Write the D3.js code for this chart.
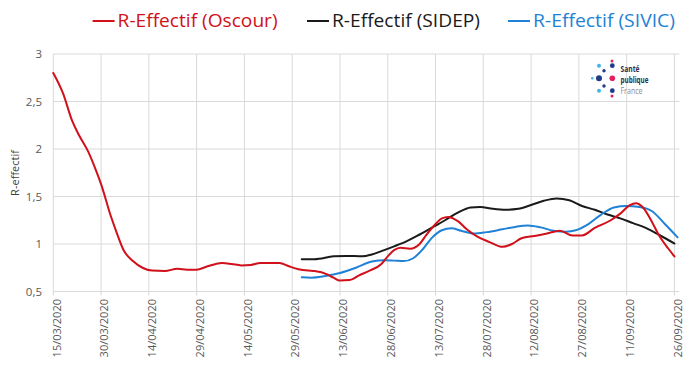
<!DOCTYPE html>
<html><head><meta charset="utf-8">
<script src="https://cdn.jsdelivr.net/npm/d3@7"></script>
<style>html,body{margin:0;padding:0;background:#fff;}svg{display:block;}</style>
</head><body>
<svg id="chart" width="700" height="382"></svg>
<script>
// ---- data ----
const seriesNames = ["R-Effectif (Oscour)", "R-Effectif (SIDEP)", "R-Effectif (SIVIC)"];
const seriesColors = ["#d0101a", "#1a1a1a", "#1f82d6"];

const oscourDates = ["2020-03-15","2020-03-18","2020-03-21","2020-03-23","2020-03-26","2020-03-28","2020-03-30","2020-04-02","2020-04-04","2020-04-06","2020-04-09","2020-04-12","2020-04-15","2020-04-19","2020-04-23","2020-04-26","2020-04-29","2020-05-02","2020-05-05","2020-05-07","2020-05-10","2020-05-13","2020-05-16","2020-05-19","2020-05-22","2020-05-25","2020-05-28","2020-05-31","2020-06-03","2020-06-05","2020-06-09","2020-06-11","2020-06-13","2020-06-16","2020-06-19","2020-06-22","2020-06-26","2020-06-28","2020-06-30","2020-07-02","2020-07-05","2020-07-08","2020-07-10","2020-07-13","2020-07-15","2020-07-17","2020-07-20","2020-07-23","2020-07-26","2020-07-30","2020-08-03","2020-08-06","2020-08-09","2020-08-13","2020-08-17","2020-08-21","2020-08-25","2020-08-28","2020-09-01","2020-09-06","2020-09-09","2020-09-12","2020-09-14","2020-09-16","2020-09-19","2020-09-21","2020-09-24","2020-09-26"];
const oscourValues = [2.80,2.59,2.29,2.15,1.97,1.81,1.63,1.30,1.11,0.94,0.82,0.75,0.72,0.715,0.74,0.73,0.73,0.76,0.79,0.80,0.79,0.775,0.78,0.80,0.80,0.80,0.765,0.735,0.72,0.715,0.68,0.645,0.615,0.62,0.67,0.715,0.79,0.87,0.935,0.96,0.95,1.00,1.09,1.21,1.27,1.285,1.24,1.15,1.08,1.02,0.97,1.00,1.06,1.085,1.11,1.14,1.09,1.09,1.17,1.25,1.32,1.41,1.43,1.39,1.23,1.10,0.955,0.87];

const sidepDates = ["2020-06-01","2020-06-05","2020-06-11","2020-06-15","2020-06-20","2020-06-23","2020-06-26","2020-06-30","2020-07-04","2020-07-08","2020-07-12","2020-07-16","2020-07-20","2020-07-24","2020-07-27","2020-07-31","2020-08-04","2020-08-08","2020-08-12","2020-08-16","2020-08-20","2020-08-24","2020-08-28","2020-09-01","2020-09-05","2020-09-09","2020-09-13","2020-09-17","2020-09-21","2020-09-26"];
const sidepValues = [0.84,0.84,0.87,0.875,0.87,0.89,0.925,0.975,1.03,1.10,1.175,1.25,1.33,1.385,1.39,1.37,1.36,1.37,1.41,1.455,1.48,1.46,1.40,1.36,1.31,1.27,1.22,1.17,1.10,1.005];

const sivicDates = ["2020-06-01","2020-06-04","2020-06-08","2020-06-13","2020-06-18","2020-06-23","2020-06-27","2020-06-30","2020-07-03","2020-07-06","2020-07-09","2020-07-12","2020-07-15","2020-07-18","2020-07-21","2020-07-25","2020-07-29","2020-08-03","2020-08-07","2020-08-11","2020-08-15","2020-08-19","2020-08-23","2020-08-26","2020-08-30","2020-09-03","2020-09-07","2020-09-11","2020-09-15","2020-09-19","2020-09-23","2020-09-27"];
const sivicValues = [0.65,0.645,0.66,0.695,0.75,0.815,0.83,0.825,0.82,0.85,0.945,1.07,1.145,1.165,1.14,1.11,1.125,1.155,1.18,1.195,1.175,1.14,1.13,1.145,1.21,1.31,1.385,1.40,1.39,1.345,1.21,1.07];

const xTickLabels = ["15/03/2020","30/03/2020","14/04/2020","29/04/2020","14/05/2020","29/05/2020","13/06/2020","28/06/2020","13/07/2020","28/07/2020","12/08/2020","27/08/2020","11/09/2020","26/09/2020"];
const yTicks = [0.5, 1, 1.5, 2, 2.5, 3];
const yTickLabels = ["0,5","1","1,5","2","2,5","3"];
const yTitle = "R-effectif";
const logoLines = ["Santé", "publique", "France"];

// ---- drawing ----
const svg = d3.select("#chart");
const parseIso = d3.timeParse("%Y-%m-%d");
const parseFr = d3.timeParse("%d/%m/%Y");

const x = d3.scaleTime()
  .domain([parseIso("2020-03-15"), d3.timeHour.offset(parseIso("2020-09-27"), 12)])
  .range([53.3, 679.2]);
const y = d3.scaleLinear().domain([0.5, 3]).range([291.5, 54]);

const grid = "#d9d9d9";
const tickFont = "'Open Sans', sans-serif";

svg.append("g").selectAll("line").data(yTicks).join("line")
  .attr("x1", x.range()[0]).attr("x2", x.range()[1])
  .attr("y1", d => y(d)).attr("y2", d => y(d))
  .attr("stroke", grid).attr("stroke-width", 1);

const xTickDates = xTickLabels.map(parseFr);
svg.append("g").selectAll("line").data(xTickDates).join("line")
  .attr("x1", d => x(d)).attr("x2", d => x(d))
  .attr("y1", y(3)).attr("y2", y(0.5) + 4)
  .attr("stroke", grid).attr("stroke-width", 1);

svg.append("g").selectAll("text").data(yTicks).join("text")
  .attr("x", 42).attr("y", d => y(d)).attr("dy", "0.35em")
  .attr("text-anchor", "end")
  .attr("font-family", tickFont).attr("font-size", 11.5).attr("fill", "#595959")
  .text((d, i) => yTickLabels[i]);

svg.append("g").selectAll("text").data(xTickDates).join("text")
  .attr("transform", d => `translate(${x(d) + 3.4},299) rotate(-90)`)
  .attr("dy", "0.35em")
  .attr("text-anchor", "end")
  .attr("font-family", tickFont).attr("font-size", 11).attr("fill", "#595959")
  .text((d, i) => xTickLabels[i]);

svg.append("text")
  .attr("transform", "translate(15,173) rotate(-90)")
  .attr("dy", "0.35em").attr("text-anchor", "middle")
  .attr("font-family", tickFont).attr("font-size", 11).attr("fill", "#404040")
  .text(yTitle);

const line = d3.line().x(d => x(d.date)).y(d => y(d.value)).curve(d3.curveMonotoneX);
const makeSeries = (dates, values) => dates.map((dt, i) => ({date: parseIso(dt), value: values[i]}));
const allSeries = [
  makeSeries(oscourDates, oscourValues),
  makeSeries(sidepDates, sidepValues),
  makeSeries(sivicDates, sivicValues)
];
[1, 2, 0].forEach(i => {
  svg.append("path").datum(allSeries[i])
    .attr("d", line).attr("fill", "none")
    .attr("stroke", seriesColors[i]).attr("stroke-width", 2)
    .attr("stroke-linejoin", "round").attr("stroke-linecap", "round");
});

// legend (positions / widths measured from reference)
const legendFont = "'Open Sans', sans-serif";
const legendX = [92.6, 307, 508];
const legendW = [160, 148, 142];
const lg = svg.append("g");
seriesNames.forEach((name, i) => {
  lg.append("line").attr("x1", legendX[i]).attr("x2", legendX[i] + 22)
    .attr("y1", 21).attr("y2", 21)
    .attr("stroke", seriesColors[i]).attr("stroke-width", 2);
  lg.append("text").attr("x", legendX[i] + 25).attr("y", 21).attr("dy", "0.36em")
    .attr("font-family", legendFont).attr("font-size", 17.5)
    .attr("textLength", legendW[i]).attr("lengthAdjust", "spacingAndGlyphs")
    .attr("fill", seriesColors[i]).text(name);
});

// logo: Santé publique France
const logo = svg.append("g");
const navy = "#1f3c88", pink = "#e4215a", cyan = "#3fb6e8";
const dots = [
  [612, 61, 1.5, pink], [599, 65.7, 2, cyan], [612.3, 65.7, 2.4, navy],
  [604, 70.7, 1.7, navy], [592.3, 78.3, 1.3, cyan], [599, 78.3, 3, navy],
  [612.3, 78.3, 2.8, pink], [604, 86, 1.7, navy], [599, 90.7, 2, cyan],
  [612.3, 90.7, 2.4, navy], [612, 96, 1.5, pink]
];
const logoW = [19, 28, 22];
logo.selectAll("circle").data(dots).join("circle")
  .attr("cx", d => d[0]).attr("cy", d => d[1]).attr("r", d => d[2]).attr("fill", d => d[3]);
logo.selectAll("text").data(logoLines).join("text")
  .attr("x", 620.5).attr("y", (d, i) => 72.3 + i * 10.6)
  .attr("font-family", "'Open Sans', sans-serif")
  .attr("font-size", 8.2)
  .attr("font-weight", (d, i) => i < 2 ? 700 : 400)
  .attr("textLength", (d, i) => logoW[i]).attr("lengthAdjust", "spacingAndGlyphs")
  .attr("fill", (d, i) => i < 2 ? "#2b2f4c" : "#8a8a95")
  .text(d => d);
</script>
</body></html>
